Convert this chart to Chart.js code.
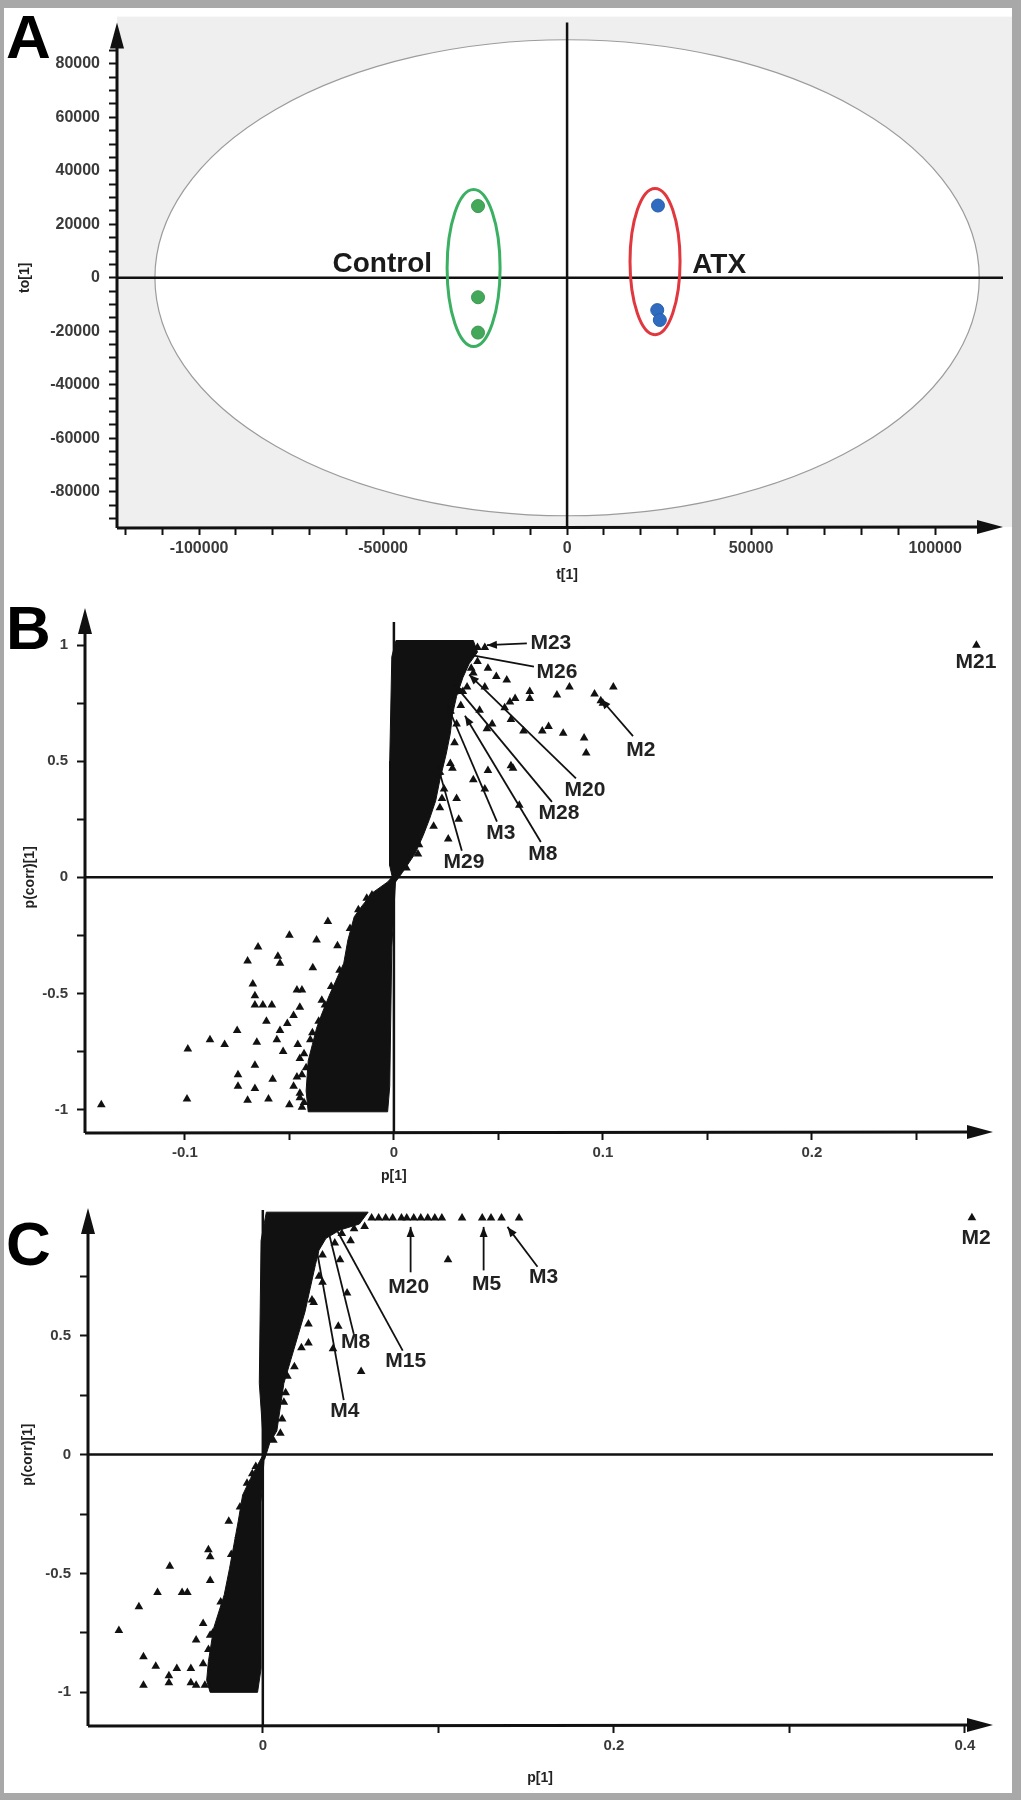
<!DOCTYPE html>
<html>
<head>
<meta charset="utf-8">
<script src="https://cdn.jsdelivr.net/npm/chart.js@4.4.1/dist/chart.umd.min.js"></script>
<style>
  html, body { margin:0; padding:0; background:#fff; }
  #fig { position:relative; width:1021px; height:1800px; overflow:hidden; background:#fff; }
  #fig canvas { position:absolute; left:0; }
  #frame { position:absolute; left:0; top:0; width:1021px; height:1800px; box-sizing:border-box;
    border-style:solid; border-color:#a8a8a8; border-width:8px 9px 7px 4px; pointer-events:none; }
</style>
</head>
<body>
<div id="fig">
  <canvas id="chartA" width="1021" height="590" style="top:0"></canvas>
  <canvas id="chartB" width="1021" height="600" style="top:590px"></canvas>
  <canvas id="chartC" width="1021" height="610" style="top:1190px"></canvas>
  <div id="frame"></div>
</div>
<script>
Chart.defaults.font.family = "Arial, 'Liberation Sans', sans-serif";
Chart.defaults.color = '#3a3a3a';

// ---------- A : score plot ----------
const controlT  = [-24200, -24200, -24200];
const controlTo = [26800, -7300, -20500];
const atxT  = [24700, 24500, 25200];
const atxTo = [27000, -12100, -15800];
// centre t, centre to, semi-axis t, semi-axis to
const hotelling   = [0, 0, 112000, 89000];
const controlRing = [-25400, 3650, 7200, 29350];
const atxRing     = [23900, 6050, 6800, 27350];
const groupNames  = ['Control', 'ATX'];
const groupNameT  = [-36700, 34000];
const groupNameTo = [2200, 1800];

const ticksAx  = [-120000, -110000, -100000, -90000, -80000, -70000, -60000, -50000, -40000, -30000, -20000, -10000,
                  0, 10000, 20000, 30000, 40000, 50000, 60000, 70000, 80000, 90000, 100000];
const labelsAx = [-100000, -50000, 0, 50000, 100000];
const ticksAy  = [-90000, -85000, -80000, -75000, -70000, -65000, -60000, -55000, -50000, -45000, -40000, -35000,
                  -30000, -25000, -20000, -15000, -10000, -5000, 0, 5000, 10000, 15000, 20000, 25000, 30000,
                  35000, 40000, 45000, 50000, 55000, 60000, 65000, 70000, 75000, 80000, 85000];
const labelsAy = [-80000, -60000, -40000, -20000, 0, 20000, 40000, 60000, 80000];

// ---------- B : S-plot ----------
// outlines of the solid black mass of overlapping variables
const cloudPosB = [[0.000,-0.03],[0.004,0.02],[0.010,0.10],[0.014,0.18],[0.017,0.25],[0.020,0.33],[0.022,0.42],
  [0.025,0.53],[0.027,0.62],[0.028,0.70],[0.030,0.78],[0.033,0.86],[0.036,0.92],[0.040,0.97],[0.038,1.02],
  [0.001,1.02],[-0.001,0.95],[-0.002,0.5],[-0.002,0.05],[0.000,-0.03]];
const cloudNegB = [[0.001,0.02],[-0.003,-0.02],[-0.010,-0.065],[-0.015,-0.12],[-0.019,-0.17],[-0.022,-0.27],
  [-0.024,-0.37],[-0.028,-0.45],[-0.031,-0.51],[-0.035,-0.60],[-0.037,-0.65],[-0.039,-0.72],[-0.041,-0.79],
  [-0.042,-0.92],[-0.041,-1.01],[-0.003,-1.01],[-0.002,-0.9],[-0.001,-0.3],[0.001,0.02]];
const spotsB = [
  [0.0435,0.99],[0.024,1.0],[0.028,1.0],[0.032,0.99],[0.036,1.0],[0.040,0.99],
  [0.049,0.865],[0.054,0.85],[0.084,0.82],[0.105,0.82],[0.096,0.79],[0.099,0.76],[0.100,0.75],
  [0.058,0.77],[0.065,0.77],[0.065,0.80],[0.078,0.785],[0.0435,0.82],[0.053,0.73],[0.056,0.68],
  [0.074,0.65],[0.071,0.63],[0.062,0.63],[0.081,0.62],[0.091,0.60],[0.092,0.535],[0.0445,0.64],
  [0.057,0.47],[0.045,0.46],[0.038,0.42],[0.0435,0.38],[0.030,0.34],[0.023,0.34],[0.028,0.47],
  [0.056,0.48],[0.0555,0.755],[0.026,0.165],[0.0115,0.10],[0.031,0.25],[0.041,0.72],[0.047,0.66],
  [0.033,0.80],[0.060,0.31],[0.035,0.96],[0.040,0.93],[0.037,0.90],[0.045,0.90],[0.2787,1.0],
  [0.006,0.04],[0.012,0.14],[0.019,0.22],[0.022,0.30],[0.024,0.38],[0.027,0.49],[0.029,0.58],
  [0.030,0.66],[0.032,0.74],[0.035,0.82],[0.038,0.88],
  [-0.0105,-0.076],[-0.0316,-0.19],[-0.050,-0.25],[-0.065,-0.30],[-0.037,-0.27],[-0.027,-0.295],
  [-0.070,-0.36],[-0.0555,-0.34],[-0.0545,-0.37],[-0.0388,-0.39],[-0.0675,-0.46],[-0.0665,-0.51],
  [-0.0627,-0.55],[-0.0584,-0.55],[-0.0665,-0.55],[-0.061,-0.62],[-0.044,-0.485],[-0.0464,-0.485],
  [-0.045,-0.56],[-0.0345,-0.53],[-0.075,-0.66],[-0.088,-0.70],[-0.081,-0.72],[-0.0986,-0.74],
  [-0.0656,-0.71],[-0.0545,-0.66],[-0.056,-0.70],[-0.0746,-0.85],[-0.0665,-0.81],[-0.0746,-0.90],
  [-0.0665,-0.91],[-0.070,-0.96],[-0.060,-0.955],[-0.099,-0.955],[-0.140,-0.98],[-0.058,-0.87],
  [-0.048,-0.90],[-0.045,-0.93],[-0.0464,-0.86],[-0.053,-0.75],[-0.046,-0.72],[-0.045,-0.78],
  [-0.039,-0.67],[-0.051,-0.63],[-0.048,-0.595],[-0.042,-0.82],[-0.043,-0.97],[-0.050,-0.98],
  [-0.013,-0.09],[-0.017,-0.14],[-0.021,-0.22],[-0.026,-0.40],[-0.030,-0.47],[-0.033,-0.55],
  [-0.036,-0.62],[-0.040,-0.70],[-0.043,-0.76],[-0.044,-0.85],[-0.045,-0.95],[-0.044,-0.99]
];
const notesB = [
  { name: 'M23', at: [0.0751, 1.008], from: [0.0636, 1.008], to: [0.0445, 1.0], head: true },
  { name: 'M26', at: [0.078, 0.882], from: [0.067, 0.907], to: [0.0364, 0.958], head: false },
  { name: 'M2',  at: [0.1182, 0.549], from: [0.1144, 0.608], to: [0.099, 0.768], head: true },
  { name: 'M20', at: [0.0914, 0.376], from: [0.0871, 0.426], to: [0.036, 0.873], head: true },
  { name: 'M28', at: [0.079, 0.274], from: [0.0756, 0.325], to: [0.029, 0.83], head: true },
  { name: 'M3',  at: [0.0512, 0.19], from: [0.0493, 0.24], to: [0.0256, 0.74], head: true },
  { name: 'M8',  at: [0.0713, 0.101], from: [0.0703, 0.152], to: [0.034, 0.696], head: true },
  { name: 'M29', at: [0.0335, 0.063], from: [0.0325, 0.114], to: [0.021, 0.48], head: true },
  { name: 'M21', at: [0.2785, 0.928] }
];
const ticksBx  = [-0.1, -0.05, 0, 0.05, 0.1, 0.15, 0.2, 0.25];
const labelsBx = [-0.1, 0, 0.1, 0.2];
const ticksBy  = [-1, -0.75, -0.5, -0.25, 0, 0.25, 0.5, 0.75, 1];
const labelsBy = [-1, -0.5, 0, 0.5, 1];

// ---------- C : S-plot ----------
const cloudPosC = [[0.001,-0.02],[0.004,0.05],[0.008,0.10],[0.010,0.2],[0.012,0.3],[0.016,0.40],[0.020,0.5],
  [0.024,0.6],[0.027,0.7],[0.030,0.8],[0.032,0.86],[0.036,0.91],[0.044,0.945],[0.055,0.97],[0.060,1.02],
  [0.002,1.02],[-0.001,0.9],[-0.002,0.3],[0.001,-0.02]];
const cloudNegC = [[0.001,0.01],[-0.002,-0.03],[-0.007,-0.10],[-0.0115,-0.17],[-0.014,-0.28],[-0.0165,-0.38],
  [-0.019,-0.48],[-0.022,-0.59],[-0.028,-0.73],[-0.031,-0.87],[-0.032,-0.95],[-0.030,-1.0],[-0.003,-1.0],
  [-0.001,-0.9],[-0.001,-0.2],[0.001,0.01]];
const spotsC = [
  [0.062,0.995],[0.066,0.995],[0.070,0.995],[0.074,0.995],[0.079,0.995],[0.082,0.995],[0.086,0.995],
  [0.090,0.995],[0.094,0.995],[0.098,0.995],[0.102,0.995],[0.1135,0.995],[0.125,0.995],[0.130,0.995],
  [0.136,0.995],[0.146,0.995],[0.404,0.996],[0.1055,0.82],[0.043,0.54],[0.056,0.35],[0.034,0.725],
  [0.048,0.68],[0.044,0.82],[0.040,0.445],[0.050,0.90],[0.045,0.93],[0.058,0.96],[0.023,0.81],
  [0.028,0.65],[0.026,0.47],[0.014,0.33],[0.012,0.22],[0.010,0.09],
  [0.006,0.06],[0.011,0.15],[0.013,0.26],[0.018,0.37],[0.022,0.45],[0.026,0.55],[0.029,0.64],
  [0.032,0.75],[0.034,0.84],[0.041,0.89],[0.052,0.95],
  [-0.0194,-0.28],[-0.031,-0.40],[-0.030,-0.43],[-0.053,-0.47],[-0.060,-0.58],[-0.046,-0.58],
  [-0.043,-0.58],[-0.030,-0.53],[-0.0706,-0.64],[-0.082,-0.74],[-0.068,-0.85],[-0.061,-0.89],
  [-0.068,-0.97],[-0.0535,-0.93],[-0.0535,-0.96],[-0.049,-0.90],[-0.041,-0.90],[-0.041,-0.96],
  [-0.038,-0.97],[-0.034,-0.71],[-0.038,-0.78],[-0.0285,-0.75],[-0.027,-0.90],[-0.031,-0.82],
  [-0.010,-0.19],[-0.0137,-0.34],[-0.016,-0.46],[-0.006,-0.08],[-0.009,-0.12],
  [-0.004,-0.05],[-0.013,-0.22],[-0.018,-0.42],[-0.024,-0.62],[-0.030,-0.76],[-0.034,-0.88],[-0.033,-0.97]
];
const notesC = [
  { name: 'M20', at: [0.0831, 0.704], from: [0.0842, 0.767], to: [0.0842, 0.958], head: true },
  { name: 'M5',  at: [0.1275, 0.717], from: [0.1258, 0.775], to: [0.1258, 0.958], head: true },
  { name: 'M3',  at: [0.160, 0.746], from: [0.1565, 0.79], to: [0.1394, 0.958], head: true },
  { name: 'M8',  at: [0.0529, 0.475], from: [0.0518, 0.508], to: [0.0376, 0.933], head: false },
  { name: 'M15', at: [0.0814, 0.392], from: [0.0797, 0.4375], to: [0.0427, 0.9375], head: false },
  { name: 'M4',  at: [0.0467, 0.183], from: [0.0461, 0.229], to: [0.0302, 0.883], head: false },
  { name: 'M2',  at: [0.4064, 0.9125] }
];
const ticksCx  = [0, 0.1, 0.2, 0.3, 0.4];
const labelsCx = [0, 0.2, 0.4];
const ticksCy  = [-1, -0.75, -0.5, -0.25, 0, 0.25, 0.5, 0.75];
const labelsCy = [-1, -0.5, 0, 0.5];

// ---------- helpers ----------
const INK = '#111';

function axis(min, max, tickValues, labelValues, size, fontSize, isX) {
  return {
    type: 'linear', min, max,
    afterBuildTicks: s => { s.ticks = tickValues.map(v => ({ value: v })); },
    afterFit: s => { if (isX) s.height = size; else s.width = size; },
    grid: { drawOnChartArea: false, drawTicks: true, tickLength: 8, tickWidth: 2, tickColor: INK },
    border: { display: false },
    ticks: {
      autoSkip: false, maxRotation: 0, minRotation: 0, padding: isX ? 4 : 9,
      color: '#3a3a3a', font: { size: fontSize, weight: 'bold' },
      callback: v => labelValues.includes(v) ? String(v) : ''
    }
  };
}

function pt(chart, x, y) {
  return [chart.scales.x.getPixelForValue(x), chart.scales.y.getPixelForValue(y)];
}

function arrowHead(ctx, x1, y1, x2, y2, len, half) {
  const a = Math.atan2(y2 - y1, x2 - x1);
  const bx = x2 - len * Math.cos(a), by = y2 - len * Math.sin(a);
  ctx.beginPath();
  ctx.moveTo(x2, y2);
  ctx.lineTo(bx + half * Math.sin(a), by - half * Math.cos(a));
  ctx.lineTo(bx - half * Math.sin(a), by + half * Math.cos(a));
  ctx.closePath();
  ctx.fill();
}

// arrowed axes along left and bottom edge of the plot area
function drawAxes(chart, tipX, tipY) {
  const { ctx, chartArea: a } = chart;
  ctx.save();
  ctx.strokeStyle = INK; ctx.fillStyle = INK; ctx.lineWidth = 3;
  ctx.beginPath();
  ctx.moveTo(a.left, a.bottom + 1); ctx.lineTo(tipX - 12, a.bottom);
  ctx.moveTo(a.left, a.bottom + 1); ctx.lineTo(a.left, tipY + 12);
  ctx.stroke();
  arrowHead(ctx, a.left, a.bottom, tipX, a.bottom, 26, 7);
  arrowHead(ctx, a.left, a.bottom, a.left, tipY, 26, 7);
  ctx.restore();
}

function zeroLines(chart, top, right) {
  const { ctx, chartArea: a } = chart;
  const [x0, y0] = pt(chart, 0, 0);
  ctx.save();
  ctx.strokeStyle = INK; ctx.lineWidth = 2.5;
  ctx.beginPath();
  ctx.moveTo(x0, top); ctx.lineTo(x0, a.bottom);
  ctx.moveTo(a.left, y0); ctx.lineTo(right, y0);
  ctx.stroke();
  ctx.restore();
}

function ellipse(chart, e) {
  const [cx, cy] = pt(chart, e[0], e[1]);
  const rx = Math.abs(chart.scales.x.getPixelForValue(e[0] + e[2]) - cx);
  const ry = Math.abs(chart.scales.y.getPixelForValue(e[1] + e[3]) - cy);
  chart.ctx.beginPath();
  chart.ctx.ellipse(cx, cy, rx, ry, 0, 0, Math.PI * 2);
}

function label(ctx, str, x, y, font, align, rotate) {
  ctx.save();
  ctx.fillStyle = '#222';
  ctx.font = font;
  ctx.textAlign = align || 'center';
  ctx.textBaseline = 'middle';
  ctx.translate(x, y);
  if (rotate) ctx.rotate(-Math.PI / 2);
  ctx.fillText(str, 0, 0);
  ctx.restore();
}

function panelLetter(ctx, ch, y) {
  ctx.save();
  ctx.fillStyle = '#000';
  ctx.font = "bold 62px Arial, 'Liberation Sans', sans-serif";
  ctx.textBaseline = 'alphabetic';
  ctx.fillText(ch, 6, y);
  ctx.restore();
}

function drawNotes(chart, notes) {
  const ctx = chart.ctx;
  ctx.save();
  ctx.strokeStyle = INK; ctx.fillStyle = INK; ctx.lineWidth = 1.8;
  notes.forEach(n => {
    if (n.from) {
      const [x1, y1] = pt(chart, n.from[0], n.from[1]);
      const [x2, y2] = pt(chart, n.to[0], n.to[1]);
      ctx.beginPath(); ctx.moveTo(x1, y1); ctx.lineTo(x2, y2); ctx.stroke();
      if (n.head) arrowHead(ctx, x1, y1, x2, y2, 10, 4);
    }
    const [lx, ly] = pt(chart, n.at[0], n.at[1]);
    label(ctx, n.name, lx, ly, "bold 21px Arial, 'Liberation Sans', sans-serif");
  });
  ctx.restore();
}

const titleFont = "bold 14px Arial, 'Liberation Sans', sans-serif";
const toXY = arr => arr.map(d => ({ x: d[0], y: d[1] }));

function cloud(points) {
  return { type: 'line', data: toXY(points), showLine: true, fill: 'shape', tension: 0,
           backgroundColor: INK, borderColor: INK, borderWidth: 1, pointRadius: 0 };
}
function spots(points) {
  return { data: toXY(points), pointStyle: 'triangle', pointRadius: 5, backgroundColor: INK, borderWidth: 0 };
}

const baseOptions = { responsive: false, animation: false, devicePixelRatio: 1, events: [],
  plugins: { legend: { display: false }, tooltip: { enabled: false } } };

// ---------- chart A ----------
new Chart(document.getElementById('chartA'), {
  type: 'scatter',
  data: { datasets: [
    { data: controlT.map((t, i) => ({ x: t, y: controlTo[i] })), backgroundColor: '#44a85a', borderColor: '#3c9a50', borderWidth: 1, pointRadius: 6.5 },
    { data: atxT.map((t, i) => ({ x: t, y: atxTo[i] })), backgroundColor: '#2f6cbf', borderColor: '#2a5fae', borderWidth: 1, pointRadius: 6.5 }
  ]},
  options: Object.assign({}, baseOptions, {
    layout: { padding: { top: 9, right: 9, left: 0, bottom: 0 } },
    scales: {
      x: axis(-122300, 120900, ticksAx, labelsAx, 63, 16, true),
      y: axis(-93200, 96900, ticksAy, labelsAy, 117, 16, false)
    }
  }),
  plugins: [{
    id: 'decoA',
    beforeDraw(chart) {
      const { ctx, chartArea: a } = chart;
      ctx.save();
      ctx.fillStyle = '#efefef';
      ctx.fillRect(a.left, a.top - 2, a.right - a.left, a.bottom - a.top + 2);
      ellipse(chart, hotelling);
      ctx.fillStyle = '#fff'; ctx.fill();
      ctx.strokeStyle = '#9c9c9c'; ctx.lineWidth = 1.2; ctx.stroke();
      ctx.restore();
    },
    beforeDatasetsDraw(chart) {
      zeroLines(chart, chart.chartArea.top + 4, chart.chartArea.right - 9);
    },
    afterDatasetsDraw(chart) {
      const ctx = chart.ctx;
      ctx.save();
      ctx.lineWidth = 3;
      ellipse(chart, controlRing); ctx.strokeStyle = '#3bb062'; ctx.stroke();
      ellipse(chart, atxRing); ctx.strokeStyle = '#e0383e'; ctx.stroke();
      ctx.restore();
    },
    afterDraw(chart) {
      const { ctx, chartArea: a } = chart;
      drawAxes(chart, a.right - 9, a.top + 4);
      groupNames.forEach((g, i) => {
        const [x, y] = pt(chart, groupNameT[i], groupNameTo[i]);
        ctx.save();
        ctx.fillStyle = '#1a1a1a';
        ctx.font = "bold 28px Arial, 'Liberation Sans', sans-serif";
        ctx.textAlign = i === 0 ? 'right' : 'left';
        ctx.textBaseline = 'alphabetic';
        ctx.fillText(g, x, y);
        ctx.restore();
      });
      label(ctx, 'to[1]', a.left - 92, chart.scales.y.getPixelForValue(0), titleFont, 'center', true);
      label(ctx, 't[1]', chart.scales.x.getPixelForValue(0), a.bottom + 48, titleFont);
      panelLetter(ctx, 'A', 58);
    }
  }]
});

// ---------- charts B and C ----------
function splot(id, clouds, pts, notes, xr, yr, ticks, sizes, letter, letterY, xTitleAt, xTitleDy, yTitleDx, lineTop) {
  new Chart(document.getElementById(id), {
    type: 'scatter',
    data: { datasets: [cloud(clouds[0]), cloud(clouds[1]), spots(pts)] },
    options: Object.assign({}, baseOptions, {
      layout: { padding: { top: sizes[0], right: 21, left: 0, bottom: 0 } },
      scales: {
        x: axis(xr[0], xr[1], ticks[0], ticks[1], sizes[1], 15, true),
        y: axis(yr[0], yr[1], ticks[2], ticks[3], sizes[2], 15, false)
      }
    }),
    plugins: [{
      id: 'deco' + id,
      beforeDatasetsDraw(chart) {
        zeroLines(chart, chart.chartArea.top + lineTop, chart.chartArea.right - 7);
      },
      afterDraw(chart) {
        const { ctx, chartArea: a } = chart;
        drawAxes(chart, a.right - 7, a.top);
        drawNotes(chart, notes);
        label(ctx, 'p(corr)[1]', a.left + yTitleDx, chart.scales.y.getPixelForValue(0), titleFont, 'center', true);
        label(ctx, 'p[1]', chart.scales.x.getPixelForValue(xTitleAt), a.bottom + xTitleDy, titleFont);
        panelLetter(ctx, letter, letterY);
      }
    }]
  });
}

splot('chartB', [cloudPosB, cloudNegB], spotsB, notesB, [-0.1478, 0.29], [-1.097, 1.16],
      [ticksBx, labelsBx, ticksBy, labelsBy], [7, 58, 85], 'B', 59, 0, 44, -55, 14);
splot('chartC', [cloudPosC, cloudNegC], spotsC, notesC, [-0.0996, 0.42], [-1.1375, 1.0375],
      [ticksCx, labelsCx, ticksCy, labelsCy], [13, 75, 88], 'C', 75, 0.158, 53, -60, 2);
</script>
</body>
</html>
